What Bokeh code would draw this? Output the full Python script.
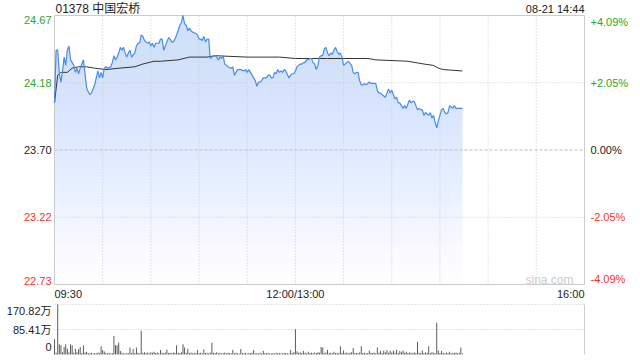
from bokeh.plotting import figure
from bokeh.models import Range1d
from bokeh.core.properties import value
from bokeh.embed import file_html
from bokeh.resources import INLINE
import numpy as np

title_text = "01378 中国宏桥"
stamp_text = "08-21 14:44"
watermark = "sina.com"
session_minutes = 330
price_low, price_high = 22.73, 24.67
y_ticks = [22.73, 23.215, 23.70, 24.185, 24.67]
y_labels = ["22.73", "23.22", "23.70", "24.18", "24.67"]
pct_labels = ["-4.09%", "-2.05%", "0.00%", "+2.05%", "+4.09%"]
tick_colors = ["#f2372d", "#f2372d", "#222222", "#27a827", "#27a827"]
tick_baselines = ["bottom", "middle", "middle", "middle", "top"]
grid_minutes = [30, 60, 90, 120, 150, 180, 210, 240, 270, 300]
time_ticks = [0, 150, 330]
time_labels = ["09:30", "12:00/13:00", "16:00"]
time_aligns = ["left", "center", "right"]
vol_max = 170.82
vol_ticks = [0, 85.41, 170.82]
vol_labels = ["0", "85.41万", "170.82万"]
vol_baselines = ["bottom", "middle", "top"]
vol_label_lift = [-4, 0, 0]

price_t = [
    0, 1, 2, 3, 4, 5, 6, 7, 8, 9,
    10, 11, 12, 13, 14, 15, 16, 17, 18, 20,
    21, 22, 23, 24, 25, 26, 27, 28, 29, 30,
    31, 32, 33, 35, 36, 37, 38, 39, 40, 41,
    42, 43, 44, 45, 46, 47, 48, 50, 51, 52,
    53, 54, 55, 56, 57, 58, 59, 60, 61, 62,
    63, 65, 66, 67, 68, 69, 70, 71, 72, 73,
    74, 75, 76, 77, 78, 79, 80, 81, 82, 83,
    84, 85, 86, 88, 89, 90, 91, 92, 93, 94,
    95, 96, 97, 98, 99, 100, 101, 102, 103, 104,
    105, 106, 107, 108, 110, 111, 112, 113, 114, 116,
    118, 119, 120, 121, 122, 123, 124, 125, 126, 127,
    128, 129, 130, 132, 133, 134, 135, 136, 137, 138,
    139, 140, 141, 142, 143, 144, 146, 147, 148, 149,
    150, 151, 152, 153, 154, 155, 156, 157, 158, 159,
    160, 161, 162, 163, 164, 165, 166, 167, 168, 169,
    170, 171, 172, 173, 174, 175, 176, 177, 178, 179,
    180, 181, 182, 183, 185, 186, 187, 188, 189, 190,
    191, 192, 193, 194, 195, 196, 197, 199, 200, 201,
    202, 203, 204, 205, 206, 207, 208, 209, 210, 211,
    212, 213, 214, 215, 216, 217, 218, 219, 221, 222,
    223, 224, 225, 226, 227, 228, 229, 230, 231, 232,
    233, 234, 235, 236, 237, 238, 239, 240, 241, 242,
    243, 244, 245, 246, 247, 248, 249, 250, 251, 254,
]
price_v = [
    24.04, 24.42, 24.42, 24.25, 24.19, 24.27, 24.37, 24.31, 24.42, 24.45,
    24.35, 24.33, 24.31, 24.26, 24.29, 24.25, 24.29, 24.32, 24.35, 24.15,
    24.12, 24.10, 24.11, 24.14, 24.17, 24.22, 24.27, 24.22, 24.26, 24.22,
    24.29, 24.30, 24.29, 24.30, 24.33, 24.38, 24.35, 24.37, 24.40, 24.44,
    24.42, 24.44, 24.40, 24.37, 24.40, 24.42, 24.37, 24.40, 24.45, 24.47,
    24.47, 24.53, 24.52, 24.49, 24.48, 24.47, 24.48, 24.45, 24.47, 24.44,
    24.47, 24.47, 24.50, 24.50, 24.42, 24.45, 24.48, 24.51, 24.50, 24.48,
    24.48, 24.50, 24.53, 24.56, 24.60, 24.62, 24.67, 24.61, 24.60, 24.56,
    24.58, 24.56, 24.55, 24.54, 24.53, 24.50, 24.50, 24.49, 24.52, 24.48,
    24.50, 24.50, 24.36, 24.37, 24.38, 24.38, 24.37, 24.35, 24.37, 24.36,
    24.38, 24.32, 24.31, 24.30, 24.29, 24.30, 24.24, 24.26, 24.28, 24.28,
    24.27, 24.28, 24.26, 24.28, 24.26, 24.24, 24.22, 24.20, 24.16, 24.19,
    24.19, 24.20, 24.22, 24.22, 24.24, 24.24, 24.22, 24.22, 24.26, 24.25,
    24.28, 24.26, 24.27, 24.26, 24.28, 24.27, 24.22, 24.24, 24.25, 24.25,
    24.27, 24.30, 24.31, 24.32, 24.32, 24.33, 24.33, 24.35, 24.35, 24.36,
    24.36, 24.33, 24.32, 24.28, 24.31, 24.37, 24.38, 24.38, 24.43, 24.44,
    24.40, 24.38, 24.40, 24.39, 24.42, 24.44, 24.41, 24.39, 24.40, 24.37,
    24.31, 24.32, 24.33, 24.34, 24.31, 24.26, 24.25, 24.26, 24.26, 24.20,
    24.17, 24.17, 24.18, 24.17, 24.18, 24.19, 24.18, 24.18, 24.18, 24.13,
    24.11, 24.11, 24.10, 24.09, 24.08, 24.11, 24.14, 24.11, 24.13, 24.10,
    24.07, 24.08, 24.04, 24.04, 24.02, 24.00, 24.02, 24.00, 24.06, 24.04,
    24.05, 24.05, 24.02, 23.99, 24.00, 23.99, 23.99, 23.95, 23.97, 23.96,
    23.95, 23.97, 23.93, 23.95, 23.90, 23.86, 23.91, 23.95, 23.99, 24.00,
    23.97, 23.96, 23.97, 24.02, 24.01, 24.00, 24.02, 24.00, 24.00, 24.00,
]

avg_t = [0, 2, 4, 8, 11, 15, 20, 25, 32, 40,
         50, 55, 62, 66, 77, 84, 95, 100, 120, 140,
         150, 170, 195, 200, 220, 230, 236, 239, 242, 254]
avg_v = [24.04, 24.24, 24.26, 24.26, 24.29, 24.30, 24.30, 24.29, 24.28, 24.29,
         24.30, 24.32, 24.34, 24.34, 24.35, 24.37, 24.37, 24.38, 24.37, 24.37,
         24.36, 24.36, 24.36, 24.35, 24.34, 24.32, 24.31, 24.29, 24.28, 24.27]

volume = [
    52, 6, 170.82, 35, 32, 8, 26, 35, 20, 7,
    35, 32, 6, 20, 8, 18, 26, 5, 32, 7,
    9, 5, 4, 6, 3, 5, 4, 7, 5, 28,
    15, 10, 5, 4, 6, 3, 5, 63, 32, 32,
    40, 12, 6, 4, 3, 5, 4, 24, 5, 19,
    5, 24, 6, 4, 81, 6, 8, 5, 7, 4,
    8, 6, 9, 5, 7, 4, 15, 6, 5, 7,
    17, 5, 6, 4, 7, 5, 32, 6, 5, 8,
    35, 24, 6, 20, 5, 7, 4, 6, 5, 15,
    5, 6, 4, 17, 5, 6, 4, 7, 40, 6,
    5, 8, 4, 6, 3, 5, 7, 4, 6, 5,
    4, 15, 5, 6, 4, 3, 19, 5, 4, 6,
    3, 5, 4, 6, 15, 4, 5, 3, 6, 4,
    13, 5, 4, 6, 3, 4, 5, 3, 6, 4,
    5, 3, 4, 6, 5, 4, 3, 15, 5, 8,
    86, 10, 6, 8, 5, 12, 6, 4, 9, 5,
    6, 4, 7, 5, 8, 6, 26, 24, 5, 7,
    15, 5, 6, 4, 9, 5, 6, 5, 28, 6,
    14, 5, 7, 4, 6, 8, 22, 5, 6, 4,
    7, 28, 5, 6, 4, 5, 14, 6, 5, 7,
    4, 24, 6, 12, 5, 14, 8, 15, 6, 13,
    7, 14, 6, 16, 5, 12, 8, 14, 6, 9,
    5, 7, 6, 4, 8, 5, 43, 6, 5, 14,
    5, 7, 6, 28, 5, 8, 6, 4, 109, 14,
    5, 12, 6, 4, 7, 5, 9, 4, 6, 5,
    7, 4, 6, 24, 3,
]

# ---------------- layout (pixels) ----------------
W, H = 640, 360
FRAME_L, FRAME_R = 54, 584
MAIN_T, MAIN_B = 15, 284
VOL_T, VOL_B = 304, 354

FONT = value("'Liberation Sans', Arial, 'Noto Sans CJK SC', sans-serif")
FS = value("11px")
GRID_COLOR = "#cacaca"
BORDER = "#cccccc"
TEXT = "#222222"

ppm = (FRAME_R - FRAME_L) / session_minutes
x_start = -FRAME_L / ppm
x_end = session_minutes + (W - FRAME_R) / ppm
dpp = (price_high - price_low) / (MAIN_B - MAIN_T)
y_end = price_high + MAIN_T * dpp
y_start = price_low - (H - MAIN_B) * dpp
vpp = vol_max / (VOL_B - VOL_T)
v_end = vol_max + VOL_T * vpp
v_start = -(H - VOL_B) * vpp


def py(px_row):
    return y_end - px_row * dpp


p = figure(width=W, height=H, x_range=Range1d(x_start, x_end), y_range=Range1d(y_start, y_end),
           x_axis_type=None, y_axis_type=None, toolbar_location=None, output_backend="svg",
           min_border=0)
p.outline_line_color = None
p.background_fill_color = "white"
p.border_fill_color = "white"
p.extra_y_ranges = {"vol": Range1d(v_start, v_end)}

# ---------------- main price panel ----------------
pt = np.array(price_t, dtype=float)
pv = np.array(price_v, dtype=float)

N = 40
edges = np.linspace(price_low, price_high, N + 1)
fill_c = "#cfe0f8"
for k in range(N):
    lo = edges[k]
    p.varea(x=pt, y1=np.full_like(pv, lo), y2=np.maximum(pv, lo),
            fill_color=fill_c, fill_alpha=1.0 / (N - k))

gm = np.array(grid_minutes, dtype=float)
p.segment(x0=gm, y0=price_low, x1=gm, y1=price_high, line_color=GRID_COLOR, line_dash="1 2")
hg = [y_ticks[1], y_ticks[3]]
p.segment(x0=0, y0=hg, x1=session_minutes, y1=hg, line_color=GRID_COLOR, line_dash="1 2")
p.segment(x0=0, y0=y_ticks[2], x1=session_minutes, y1=y_ticks[2], line_color="#bdbdbd",
          line_dash="3 2")
p.quad(left=0, right=session_minutes, bottom=price_low, top=price_high,
       fill_color=None, line_color=BORDER, line_width=1)

p.line(avg_t, avg_v, line_color="#333333", line_width=1)
p.line(pt, pv, line_color="#4a8bef", line_width=1.2)

p.text(x=[0] * len(y_ticks), y=y_ticks, text=y_labels, text_color=tick_colors,
       text_baseline=tick_baselines, text_align="right", x_offset=-3,
       text_font=FONT, text_font_size=FS)
p.text(x=[session_minutes] * len(y_ticks), y=y_ticks, text=pct_labels, text_color=tick_colors,
       text_baseline=tick_baselines, text_align="left", x_offset=6,
       text_font=FONT, text_font_size=FS)
p.text(x=time_ticks, y=[py(293)] * len(time_ticks), text=time_labels, text_align=time_aligns,
       text_baseline="middle", text_color=TEXT, text_font=FONT, text_font_size=FS)

p.text(x=[0], y=[py(8)], text=[title_text], text_align="left", text_baseline="middle",
       x_offset=1, text_color=TEXT, text_font=FONT, text_font_size=value("12px"))
p.text(x=[session_minutes], y=[py(8)], text=[stamp_text], text_align="right",
       text_baseline="middle", text_color=TEXT, text_font=FONT, text_font_size=FS)
p.text(x=[session_minutes], y=[py(279)], text=[watermark], text_align="right",
       text_baseline="middle", x_offset=-11, text_color="#cccccc", text_font=FONT,
       text_font_size=value("12px"))

# ---------------- volume panel ----------------
vg = vol_ticks[1:]
p.segment(x0=0, y0=vg, x1=session_minutes, y1=vg, line_color=GRID_COLOR, line_dash="1 2",
          y_range_name="vol")
p.segment(x0=session_minutes, y0=0, x1=session_minutes, y1=vol_max, line_color=BORDER,
          y_range_name="vol")
vt = list(range(len(volume)))
p.vbar(x=vt, top=volume, bottom=0, width=0.6, fill_color="#555555", line_color=None,
       y_range_name="vol")
p.text(x=[0] * len(vol_ticks), y=vol_ticks, text=vol_labels, text_align="right",
       text_baseline=vol_baselines, x_offset=-3, y_offset=vol_label_lift, text_color=TEXT,
       text_font=FONT, text_font_size=FS, y_range_name="vol")

open("out.html", "w").write(file_html(p, INLINE))
